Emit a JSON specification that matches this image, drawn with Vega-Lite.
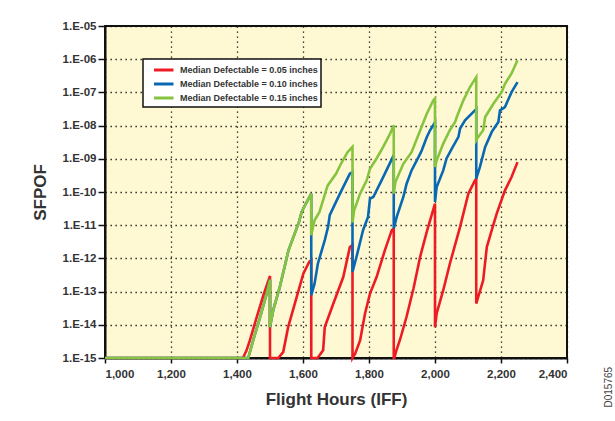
{
"$schema": "https://vega.github.io/schema/vega-lite/v6.json",
"width": 462, "height": 332,
"autosize": {"type": "none"},
"padding": {"left": 105, "top": 26, "right": 48, "bottom": 63},
"background": "white",
"title": {"text": "D015765", "orient": "right", "anchor": "end", "frame": "bounds", "angle": -90, "align": "left", "baseline": "top", "fontSize": 10, "fontWeight": "normal", "color": "#444", "offset": 26, "font": "Liberation Sans, sans-serif"},
"datasets": {"d": [
{"s":"0.05","i":1,"h":1000,"v":1e-15},
{"s":"0.05","i":2,"h":1418,"v":1e-15},
{"s":"0.05","i":3,"h":1429,"v":1.70e-15},
{"s":"0.05","i":4,"h":1439,"v":3.39e-15},
{"s":"0.05","i":5,"h":1460,"v":1.74e-14},
{"s":"0.05","i":6,"h":1480,"v":7.76e-14},
{"s":"0.05","i":7,"h":1500,"v":2.95e-13},
{"s":"0.05","i":8,"h":1500,"v":1e-15},
{"s":"0.05","i":9,"h":1525,"v":1e-15},
{"s":"0.05","i":10,"h":1540,"v":1.51e-15},
{"s":"0.05","i":11,"h":1555,"v":8.51e-15},
{"s":"0.05","i":12,"h":1581,"v":6.92e-14},
{"s":"0.05","i":13,"h":1601,"v":3.47e-13},
{"s":"0.05","i":14,"h":1619,"v":7.94e-13},
{"s":"0.05","i":15,"h":1625,"v":8.91e-13},
{"s":"0.05","i":16,"h":1625,"v":1e-15},
{"s":"0.05","i":17,"h":1644,"v":1e-15},
{"s":"0.05","i":18,"h":1661,"v":1.70e-15},
{"s":"0.05","i":19,"h":1666,"v":8.51e-15},
{"s":"0.05","i":20,"h":1692,"v":4.37e-14},
{"s":"0.05","i":21,"h":1722,"v":2.75e-13},
{"s":"0.05","i":22,"h":1742,"v":2.19e-12},
{"s":"0.05","i":23,"h":1750,"v":2.51e-12},
{"s":"0.05","i":24,"h":1750,"v":1e-15},
{"s":"0.05","i":25,"h":1758,"v":1.35e-15},
{"s":"0.05","i":26,"h":1773,"v":3.39e-15},
{"s":"0.05","i":27,"h":1788,"v":2.19e-14},
{"s":"0.05","i":28,"h":1803,"v":8.71e-14},
{"s":"0.05","i":29,"h":1823,"v":2.75e-13},
{"s":"0.05","i":30,"h":1848,"v":1.74e-12},
{"s":"0.05","i":31,"h":1869,"v":7.08e-12},
{"s":"0.05","i":32,"h":1875,"v":7.94e-12},
{"s":"0.05","i":33,"h":1875,"v":1e-15},
{"s":"0.05","i":34,"h":1877,"v":1e-15},
{"s":"0.05","i":35,"h":1882,"v":1.58e-15},
{"s":"0.05","i":36,"h":1894,"v":3.55e-15},
{"s":"0.05","i":37,"h":1914,"v":1.78e-14},
{"s":"0.05","i":38,"h":1935,"v":1.26e-13},
{"s":"0.05","i":39,"h":1955,"v":1.12e-12},
{"s":"0.05","i":40,"h":1975,"v":6.31e-12},
{"s":"0.05","i":41,"h":2000,"v":4.47e-11},
{"s":"0.05","i":42,"h":2000,"v":8.51e-15},
{"s":"0.05","i":43,"h":2005,"v":2.19e-14},
{"s":"0.05","i":44,"h":2025,"v":1.10e-13},
{"s":"0.05","i":45,"h":2045,"v":6.92e-13},
{"s":"0.05","i":46,"h":2076,"v":8.91e-12},
{"s":"0.05","i":47,"h":2101,"v":8.91e-11},
{"s":"0.05","i":48,"h":2121,"v":2.24e-10},
{"s":"0.05","i":49,"h":2125,"v":2.51e-10},
{"s":"0.05","i":50,"h":2125,"v":4.37e-14},
{"s":"0.05","i":51,"h":2131,"v":6.92e-14},
{"s":"0.05","i":52,"h":2146,"v":2.19e-13},
{"s":"0.05","i":53,"h":2157,"v":2.19e-12},
{"s":"0.05","i":54,"h":2172,"v":7.08e-12},
{"s":"0.05","i":55,"h":2187,"v":2.24e-11},
{"s":"0.05","i":56,"h":2212,"v":1.12e-10},
{"s":"0.05","i":57,"h":2232,"v":2.82e-10},
{"s":"0.05","i":58,"h":2250,"v":7.94e-10},
{"s":"0.10","i":1,"h":1000,"v":1e-15},
{"s":"0.10","i":2,"h":1434,"v":1e-15},
{"s":"0.10","i":3,"h":1449,"v":3.39e-15},
{"s":"0.10","i":4,"h":1470,"v":1.70e-14},
{"s":"0.10","i":5,"h":1490,"v":8.71e-14},
{"s":"0.10","i":6,"h":1500,"v":2.29e-13},
{"s":"0.10","i":7,"h":1500,"v":8.51e-15},
{"s":"0.10","i":8,"h":1510,"v":2.82e-14},
{"s":"0.10","i":9,"h":1530,"v":1.41e-13},
{"s":"0.10","i":10,"h":1556,"v":1.74e-12},
{"s":"0.10","i":11,"h":1588,"v":1.26e-11},
{"s":"0.10","i":12,"h":1596,"v":2.51e-11},
{"s":"0.10","i":13,"h":1606,"v":3.98e-11},
{"s":"0.10","i":14,"h":1625,"v":8.91e-11},
{"s":"0.10","i":15,"h":1625,"v":7.76e-14},
{"s":"0.10","i":16,"h":1635,"v":1.74e-13},
{"s":"0.10","i":17,"h":1645,"v":6.92e-13},
{"s":"0.10","i":18,"h":1666,"v":3.55e-12},
{"s":"0.10","i":19,"h":1676,"v":8.91e-12},
{"s":"0.10","i":20,"h":1681,"v":2.0e-11},
{"s":"0.10","i":21,"h":1712,"v":8.91e-11},
{"s":"0.10","i":22,"h":1742,"v":3.55e-10},
{"s":"0.10","i":23,"h":1750,"v":3.98e-10},
{"s":"0.10","i":24,"h":1750,"v":3.89e-13},
{"s":"0.10","i":25,"h":1762,"v":1.10e-12},
{"s":"0.10","i":26,"h":1782,"v":7.08e-12},
{"s":"0.10","i":27,"h":1797,"v":1.78e-11},
{"s":"0.10","i":28,"h":1803,"v":6.31e-11},
{"s":"0.10","i":29,"h":1813,"v":7.08e-11},
{"s":"0.10","i":30,"h":1843,"v":2.82e-10},
{"s":"0.10","i":31,"h":1875,"v":1.29e-9},
{"s":"0.10","i":32,"h":1875,"v":7.94e-12},
{"s":"0.10","i":33,"h":1884,"v":1.78e-11},
{"s":"0.10","i":34,"h":1904,"v":7.08e-11},
{"s":"0.10","i":35,"h":1914,"v":1.78e-10},
{"s":"0.10","i":36,"h":1929,"v":4.47e-10},
{"s":"0.10","i":37,"h":1955,"v":1.41e-9},
{"s":"0.10","i":38,"h":1960,"v":1.82e-9},
{"s":"0.10","i":39,"h":1975,"v":4.47e-9},
{"s":"0.10","i":40,"h":1985,"v":7.24e-9},
{"s":"0.10","i":41,"h":2000,"v":1.26e-8},
{"s":"0.10","i":42,"h":2000,"v":5.01e-11},
{"s":"0.10","i":43,"h":2005,"v":1.41e-10},
{"s":"0.10","i":44,"h":2025,"v":4.47e-10},
{"s":"0.10","i":45,"h":2035,"v":1.02e-9},
{"s":"0.10","i":46,"h":2051,"v":2.04e-9},
{"s":"0.10","i":47,"h":2071,"v":4.57e-9},
{"s":"0.10","i":48,"h":2076,"v":8.13e-9},
{"s":"0.10","i":49,"h":2091,"v":1.45e-8},
{"s":"0.10","i":50,"h":2121,"v":2.88e-8},
{"s":"0.10","i":51,"h":2125,"v":3.16e-8},
{"s":"0.10","i":52,"h":2125,"v":2.51e-10},
{"s":"0.10","i":53,"h":2136,"v":5.62e-10},
{"s":"0.10","i":54,"h":2152,"v":2.29e-9},
{"s":"0.10","i":55,"h":2172,"v":6.46e-9},
{"s":"0.10","i":56,"h":2192,"v":1.29e-8},
{"s":"0.10","i":57,"h":2197,"v":2.88e-8},
{"s":"0.10","i":58,"h":2212,"v":3.63e-8},
{"s":"0.10","i":59,"h":2232,"v":1.02e-7},
{"s":"0.10","i":60,"h":2250,"v":2.04e-7},
{"s":"0.15","i":1,"h":1000,"v":1e-15},
{"s":"0.15","i":2,"h":1434,"v":1e-15},
{"s":"0.15","i":3,"h":1449,"v":3.39e-15},
{"s":"0.15","i":4,"h":1470,"v":1.70e-14},
{"s":"0.15","i":5,"h":1490,"v":8.71e-14},
{"s":"0.15","i":6,"h":1500,"v":2.29e-13},
{"s":"0.15","i":7,"h":1500,"v":8.51e-15},
{"s":"0.15","i":8,"h":1510,"v":2.82e-14},
{"s":"0.15","i":9,"h":1530,"v":1.41e-13},
{"s":"0.15","i":10,"h":1556,"v":1.74e-12},
{"s":"0.15","i":11,"h":1588,"v":1.26e-11},
{"s":"0.15","i":12,"h":1596,"v":2.51e-11},
{"s":"0.15","i":13,"h":1606,"v":3.98e-11},
{"s":"0.15","i":14,"h":1625,"v":8.91e-11},
{"s":"0.15","i":15,"h":1625,"v":5.01e-12},
{"s":"0.15","i":16,"h":1635,"v":1.41e-11},
{"s":"0.15","i":17,"h":1650,"v":2.51e-11},
{"s":"0.15","i":18,"h":1670,"v":1.12e-10},
{"s":"0.15","i":19,"h":1675,"v":1.58e-10},
{"s":"0.15","i":20,"h":1700,"v":3.55e-10},
{"s":"0.15","i":21,"h":1715,"v":7.08e-10},
{"s":"0.15","i":22,"h":1735,"v":1.58e-9},
{"s":"0.15","i":23,"h":1750,"v":2.29e-9},
{"s":"0.15","i":24,"h":1750,"v":1.20e-11},
{"s":"0.15","i":25,"h":1755,"v":2.82e-11},
{"s":"0.15","i":26,"h":1773,"v":8.91e-11},
{"s":"0.15","i":27,"h":1793,"v":2.24e-10},
{"s":"0.15","i":28,"h":1803,"v":5.01e-10},
{"s":"0.15","i":29,"h":1823,"v":1.02e-9},
{"s":"0.15","i":30,"h":1843,"v":2.29e-9},
{"s":"0.15","i":31,"h":1864,"v":5.75e-9},
{"s":"0.15","i":32,"h":1875,"v":1.02e-8},
{"s":"0.15","i":33,"h":1875,"v":8.91e-11},
{"s":"0.15","i":34,"h":1880,"v":2.0e-10},
{"s":"0.15","i":35,"h":1904,"v":7.08e-10},
{"s":"0.15","i":36,"h":1929,"v":1.58e-9},
{"s":"0.15","i":37,"h":1955,"v":7.08e-9},
{"s":"0.15","i":38,"h":1975,"v":2.29e-8},
{"s":"0.15","i":39,"h":1995,"v":5.75e-8},
{"s":"0.15","i":40,"h":2000,"v":6.46e-8},
{"s":"0.15","i":41,"h":2000,"v":5.62e-10},
{"s":"0.15","i":42,"h":2005,"v":8.91e-10},
{"s":"0.15","i":43,"h":2025,"v":2.88e-9},
{"s":"0.15","i":44,"h":2045,"v":7.24e-9},
{"s":"0.15","i":45,"h":2061,"v":1.29e-8},
{"s":"0.15","i":46,"h":2066,"v":1.82e-8},
{"s":"0.15","i":47,"h":2086,"v":5.75e-8},
{"s":"0.15","i":48,"h":2106,"v":1.45e-7},
{"s":"0.15","i":49,"h":2125,"v":2.88e-7},
{"s":"0.15","i":50,"h":2125,"v":3.63e-9},
{"s":"0.15","i":51,"h":2131,"v":4.57e-9},
{"s":"0.15","i":52,"h":2146,"v":7.24e-9},
{"s":"0.15","i":53,"h":2152,"v":1.82e-8},
{"s":"0.15","i":54,"h":2177,"v":4.57e-8},
{"s":"0.15","i":55,"h":2202,"v":1.02e-7},
{"s":"0.15","i":56,"h":2212,"v":1.82e-7},
{"s":"0.15","i":57,"h":2232,"v":3.72e-7},
{"s":"0.15","i":58,"h":2250,"v":9.33e-7}
]},
"data": {"name": "d"},
"encoding": {
  "x": {"field": "h", "type": "quantitative", "title": "Flight Hours (IFF)",
        "scale": {"domain": [1000, 2400], "nice": false, "zero": false},
        "axis": {"values": [1000,1200,1400,1600,1800,2000,2200,2400], "format": ",d", "tickSize": 5, "labelPadding": 5, "titlePadding": 12}},
  "y": {"field": "v", "type": "quantitative", "title": "SFPOF",
        "scale": {"type": "log", "domain": [1e-15, 1e-5], "nice": false},
        "axis": {"values": [1e-15,1e-14,1e-13,1e-12,1e-11,1e-10,1e-9,1e-8,1e-7,1e-6,1e-5],
                 "labelExpr": "'1.E-' + (round(-log(datum.value)/LN10) < 10 ? '0' : '') + round(-log(datum.value)/LN10)",
                 "tickSize": 7, "labelPadding": 2, "titlePadding": 13}},
  "color": {"field": "s", "type": "nominal",
            "scale": {"domain": ["0.05","0.10","0.15"], "range": ["#ED1C24","#0868B4","#86C440"]},
            "legend": {"title": null, "orient": "none", "legendX": 38, "legendY": 33,
                       "labelExpr": "'Median Defectable = ' + datum.label + ' inches'"}},
  "order": {"field": "i", "type": "quantitative"}
},
"layer": [
  {"transform": [{"filter": "datum.s === '0.05'"}], "mark": {"type": "line", "strokeWidth": 2.6}},
  {"transform": [{"filter": "datum.s === '0.10'"}], "mark": {"type": "line", "strokeWidth": 2.6}},
  {"transform": [{"filter": "datum.s === '0.15'"}], "mark": {"type": "line", "strokeWidth": 2.6}}
],
"config": {
  "font": "Liberation Sans, sans-serif",
  "view": {"fill": "#FEF9D2", "stroke": "#111", "strokeWidth": 2},
  "axis": {"labelFont": "Liberation Sans, sans-serif", "labelFontWeight": "bold", "labelFontSize": 11.5, "labelColor": "#333",
           "titleFont": "Liberation Sans, sans-serif", "titleFontWeight": "bold", "titleFontSize": 17, "titleColor": "#333",
           "domainColor": "#111", "domainWidth": 2, "tickColor": "#111", "tickWidth": 1.5,
           "grid": true, "gridColor": "#111", "gridWidth": 1.3, "gridDash": [1.3, 3.7], "gridOpacity": 1},
  "legend": {"fillColor": "white", "strokeColor": "#111", "strokeWidth": 1.5, "padding": 3, "symbolType": "M0,0H3", "symbolSize": 169, "symbolStrokeWidth": 3, "labelLimit": 400,
             "labelFont": "Liberation Sans, sans-serif", "labelFontWeight": "bold", "labelFontSize": 9, "labelColor": "#333", "rowPadding": 0, "labelOffset": 18}
}
}
